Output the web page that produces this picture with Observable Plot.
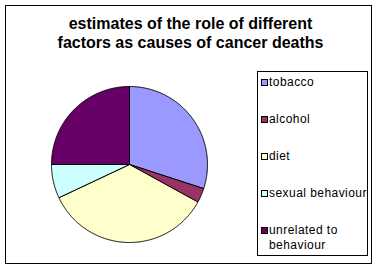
<!DOCTYPE html>
<html><head><meta charset="utf-8">
<script src="https://cdn.jsdelivr.net/npm/d3@7"></script>
<script src="https://cdn.jsdelivr.net/npm/@observablehq/plot@0.6"></script>
<style>
html,body{margin:0;padding:0;background:#fff;}
#wrap{position:relative;width:381px;height:270px;font-family:Arial,"Liberation Sans",sans-serif;overflow:hidden;background:#fff;}
#frame{position:absolute;left:5px;top:5px;width:365px;height:257px;border:1px solid #000;}
#title{position:absolute;left:0;width:381px;top:14px;text-align:center;font-weight:bold;font-size:16px;line-height:19px;color:#000;}
#pie{position:absolute;left:44px;top:79px;width:170px;height:170px;}
#legend{position:absolute;left:257px;top:71px;width:109px;height:183px;border:1px solid #000;}
.sw{position:absolute;width:5px;height:5px;border:1px solid #000;}
.lt{position:absolute;font-size:12px;line-height:15px;letter-spacing:0.45px;color:#000;white-space:nowrap;}
</style></head>
<body>
<div id="wrap">
  <div id="frame"></div>
  <div id="title">estimates of the role of different<br>factors as causes of cancer deaths</div>
  <div id="pie"></div>
  <div id="legend"></div>
</div>
<script>
const categories = ["tobacco", "alcohol", "diet", "sexual behaviour", "unrelated to behaviour"];
const legendLabels = [["tobacco"], ["alcohol"], ["diet"], ["sexual behaviour"], ["unrelated to", "behaviour"]];
const values = [30, 3, 35, 7, 25];
const colors = ["#9999FF", "#993366", "#FFFFCC", "#CCFFFF", "#660066"];

const R = 78;
const total = d3.sum(values);
const points = [];
let acc = 0;
values.forEach((v, i) => {
  const a0 = acc / total * 2 * Math.PI;
  acc += v;
  const a1 = acc / total * 2 * Math.PI;
  const cat = categories[i];
  points.push({cat, x: 0, y: 0});
  const n = Math.max(2, Math.ceil((a1 - a0) / (Math.PI / 360)));
  for (let k = 0; k <= n; k++) {
    const a = a0 + (a1 - a0) * k / n;
    points.push({cat, x: R * Math.sin(a), y: R * Math.cos(a)});
  }
  points.push({cat, x: 0, y: 0});
});

const chart = Plot.plot({
  width: 170, height: 170, margin: 0,
  x: {domain: [-85, 85], axis: null},
  y: {domain: [-85, 85], axis: null},
  color: {domain: categories, range: colors},
  marks: [
    Plot.line(points, {x: "x", y: "y", z: "cat", fill: "cat", stroke: "#000", strokeWidth: 1, strokeLinejoin: "round", curve: "linear"})
  ]
});
document.getElementById("pie").appendChild(chart);

const legend = document.getElementById("legend");
const baselines = [86, 123, 160, 197, 234];
categories.forEach((c, i) => {
  const sw = document.createElement("div");
  sw.className = "sw";
  sw.style.background = colors[i];
  sw.style.left = (261 - 258) + "px";
  sw.style.top = (baselines[i] - 7 - 72) + "px";
  legend.appendChild(sw);
  legendLabels[i].forEach((t, j) => {
    const el = document.createElement("div");
    el.className = "lt";
    el.textContent = t;
    el.style.left = (269 - 258) + "px";
    el.style.top = (baselines[i] + j * 15 - 11 - 72) + "px";
    legend.appendChild(el);
  });
});
</script>
</body></html>
